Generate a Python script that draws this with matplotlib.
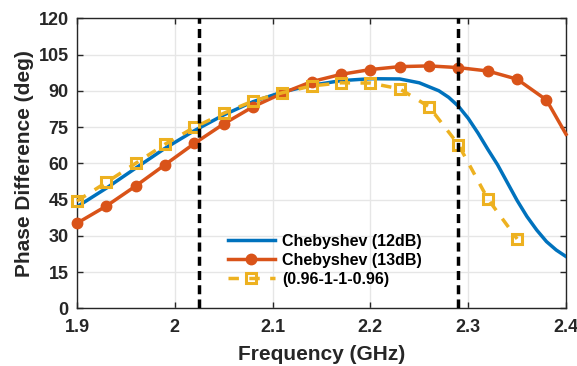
import matplotlib
matplotlib.use("Agg")
import matplotlib.pyplot as plt

# Chebyshev (12dB) response, sampled densely
f_cheb12 = [1.90, 1.93, 1.96, 1.99, 2.02, 2.05, 2.08, 2.11, 2.14, 2.17, 2.20,
            2.23, 2.25, 2.27, 2.28, 2.29, 2.30, 2.31, 2.32, 2.33, 2.34, 2.35,
            2.36, 2.37, 2.38, 2.39, 2.40]
ph_cheb12 = [42.0, 49.7, 58.0, 66.2, 73.5, 80.0, 85.5, 89.5, 92.3, 94.2, 95.0,
             94.9, 93.3, 90.0, 87.3, 83.6, 78.6, 72.5, 65.8, 59.4, 52.0, 44.6,
             38.0, 32.4, 27.6, 24.1, 21.4]

# Chebyshev (13dB) response (last sample at the band end has no marker)
f_cheb13 = [1.90, 1.93, 1.96, 1.99, 2.02, 2.05, 2.08, 2.11, 2.14, 2.17, 2.20,
            2.23, 2.26, 2.29, 2.32, 2.35, 2.38, 2.40]
ph_cheb13 = [35.2, 42.3, 50.6, 59.4, 68.2, 76.3, 83.4, 89.0, 93.8, 96.8, 98.8,
             100.0, 100.3, 99.6, 98.2, 94.8, 86.2, 72.0]

# (0.96-1-1-0.96) response
f_ratio = [1.90, 1.93, 1.96, 1.99, 2.02, 2.05, 2.08, 2.11, 2.14, 2.17, 2.20,
           2.23, 2.26, 2.29, 2.32, 2.35]
ph_ratio = [44.4, 52.1, 60.0, 67.9, 74.9, 80.7, 85.8, 89.2, 92.0, 93.3, 93.2,
            90.8, 83.4, 67.7, 45.3, 28.7]

# band edges
band_edges = [2.025, 2.29]

x_ticks = [1.9, 2.0, 2.1, 2.2, 2.3, 2.4]
x_tick_labels = ["1.9", "2", "2.1", "2.2", "2.3", "2.4"]
y_ticks = [0, 15, 30, 45, 60, 75, 90, 105, 120]

text_color = "#262626"
plt.rcParams["font.family"] = ["Liberation Sans", "DejaVu Sans"]
plt.rcParams["font.weight"] = "bold"

fig = plt.figure(figsize=(5.77, 3.66), dpi=100)
ax = fig.add_axes([0.1334, 0.1577, 0.8476, 0.7923])

ax.plot(f_cheb12, ph_cheb12, color="#0072BD", lw=2.5,
        label="Chebyshev (12dB)", zorder=3)
ax.plot(f_cheb13, ph_cheb13, color="#D95319", lw=2.5, marker="o", ms=7.5,
        mfc="#D95319", mec="#D95319", markevery=list(range(len(f_cheb13) - 1)),
        label="Chebyshev (13dB)", zorder=4, clip_on=False)
ax.plot(f_ratio, ph_ratio, color="#EDB120", lw=2.5, ls=(0, (3, 3)),
        marker="s", ms=7.5, mfc="none", mec="#EDB120", mew=2.2,
        label="(0.96-1-1-0.96)", zorder=5, clip_on=False)

for xe in band_edges:
    ax.axvline(xe, color="black", lw=2.5, ls=(0, (2.6, 1.5)), zorder=6)

ax.set_xlim(1.9, 2.4)
ax.set_ylim(0, 120)
ax.set_xticks(x_ticks)
ax.set_xticklabels(x_tick_labels)
ax.set_yticks(y_ticks)
ax.grid(True, color="#e6e6e6", lw=1.0, zorder=0)
ax.set_axisbelow(True)

ax.tick_params(axis="both", direction="in", length=4, width=1,
               colors=text_color, labelsize=13, top=True, right=True)
ax.tick_params(axis="x", pad=8)
ax.tick_params(axis="y", pad=6)
for lab in ax.get_xticklabels() + ax.get_yticklabels():
    lab.set_fontweight("bold")
for sp in ax.spines.values():
    sp.set_color(text_color)
    sp.set_linewidth(1.0)

ax.set_xlabel("Frequency (GHz)", fontsize=15, fontweight="bold",
              color=text_color, labelpad=6)
ax.set_ylabel("Phase Difference (deg)", fontsize=15, fontweight="bold",
              color=text_color, labelpad=3)

leg = ax.legend(loc="lower left", bbox_to_anchor=(0.285, 0.035), frameon=False,
                fontsize=11.5, handlelength=3.0, handletextpad=0.4,
                labelspacing=0.25, borderaxespad=0.3)
for t in leg.get_texts():
    t.set_color("black")
    t.set_fontweight("bold")

fig.savefig("out.png", dpi=100)
